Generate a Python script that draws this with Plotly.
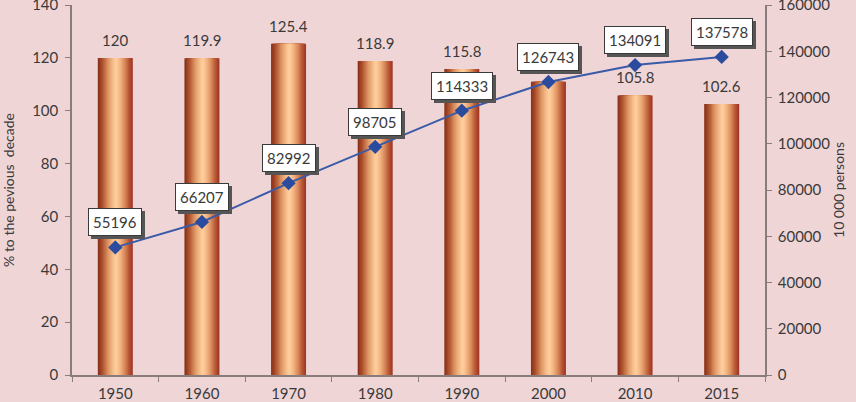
import plotly.graph_objects as go

years = ["1950", "1960", "1970", "1980", "1990", "2000", "2010", "2015"]
pct_prev_decade = [120, 119.9, 125.4, 118.9, 115.8, 111.0, 105.8, 102.6]
pct_labels = ["120", "119.9", "125.4", "118.9", "115.8", "", "105.8", "102.6"]
population = [55196, 66207, 82992, 98705, 114333, 126743, 134091, 137578]

BG = "#F0D5D7"
AXIS = "#8A7B7C"
TXT = "#3A3A3A"
FONT = "Lato"

fig = go.Figure()

# bar gradient (dark edges, light peach centre), built from nested overlay layers
BW = 0.404
half = BW / 2
peak = 0.52  # relative position of the light peak across the bar
PEAK_RGB = (253, 203, 152)
left_stops = [(0.0, (138, 50, 26)), (0.12, (176, 84, 48)), (0.28, (222, 150, 100)),
              (0.42, (246, 190, 140)), (0.52, PEAK_RGB)]
right_stops = [(0.52, PEAK_RGB), (0.64, (246, 186, 136)), (0.78, (218, 140, 92)),
               (0.90, (185, 88, 55)), (1.0, (160, 56, 36))]


def interp(stops, t):
    for (t0, c0), (t1, c1) in zip(stops[:-1], stops[1:]):
        if t0 <= t <= t1:
            f = 0 if t1 == t0 else (t - t0) / (t1 - t0)
            return "rgb(%d,%d,%d)" % tuple(round(a + (b - a) * f) for a, b in zip(c0, c1))
    c = stops[-1][1]
    return "rgb(%d,%d,%d)" % c


N = 14
eps = 0.01
for k in range(N):
    t = peak * k / N
    start = -half + BW * t
    end = -half + BW * peak + eps
    fig.add_trace(go.Bar(x=years, y=pct_prev_decade, offset=start, width=end - start,
                         marker=dict(color=interp(left_stops, t), line=dict(width=0)),
                         showlegend=False, hoverinfo="skip"))
for k in range(N):
    t = 1 - (1 - peak) * k / N
    start = -half + BW * peak - eps
    end = -half + BW * t
    fig.add_trace(go.Bar(x=years, y=pct_prev_decade, offset=start, width=end - start,
                         marker=dict(color=interp(right_stops, t), line=dict(width=0)),
                         showlegend=False, hoverinfo="skip"))
# smooth centre highlight over the seam
fig.add_trace(go.Bar(x=years, y=pct_prev_decade, offset=-half + BW * (peak - 0.05),
                     width=BW * 0.10,
                     marker=dict(color="rgb(%d,%d,%d)" % PEAK_RGB, line=dict(width=0)),
                     showlegend=False, hoverinfo="skip"))

fig.add_trace(go.Scatter(x=years, y=population, yaxis="y2", mode="lines+markers",
                         line=dict(color="#3A5BA8", width=2),
                         marker=dict(symbol="diamond", size=11, color="#2B4C9E"),
                         showlegend=False))

annotations = []
for i, (v, lab) in enumerate(zip(pct_prev_decade, pct_labels)):
    if lab:
        annotations.append(dict(x=i, y=v, xref="x", yref="y", text=lab, showarrow=False,
                                yshift=18, font=dict(family=FONT, size=15, color=TXT)))
for i, v in enumerate(population):
    annotations.append(dict(x=i, y=v, xref="x", yref="y2", text=str(v), showarrow=False,
                            xshift=3, yshift=22, bgcolor="#555555", bordercolor="#555555",
                            borderwidth=1, borderpad=4,
                            font=dict(family=FONT, size=15, color="#555555")))
    annotations.append(dict(x=i, y=v, xref="x", yref="y2", text=str(v), showarrow=False,
                            yshift=25, bgcolor="white", bordercolor="#3A3A3A",
                            borderwidth=1, borderpad=4,
                            font=dict(family=FONT, size=15, color=TXT)))

fig.update_layout(
    width=856, height=402,
    margin=dict(l=72, r=91, t=5, b=27, autoexpand=False),
    paper_bgcolor=BG, plot_bgcolor=BG,
    barmode="overlay",
    font=dict(family=FONT, size=15, color=TXT),
    xaxis=dict(type="category", range=[-0.5, 7.5], tickson="boundaries", ticks="outside",
               ticklen=5, tickcolor=AXIS, showline=True, linecolor=AXIS, linewidth=1.5,
               showgrid=False, tickangle=0, ticklabelstandoff=4, automargin=False,
               tickfont=dict(size=15, color=TXT)),
    yaxis=dict(range=[0, 140.05], tickvals=[0, 20, 40, 60, 80, 100, 120, 140],
               ticks="outside", ticklen=5, tickcolor=AXIS, ticklabeloverflow="allow",
               showline=True, linecolor=AXIS, linewidth=1.5, showgrid=False, zeroline=False,
               ticklabelstandoff=4, automargin=False,
               title=dict(text="% to the pevious  decade", font=dict(size=14, color=TXT), standoff=15),
               tickfont=dict(size=15, color=TXT)),
    yaxis2=dict(range=[0, 160060], tickvals=[0, 20000, 40000, 60000, 80000, 100000, 120000, 140000, 160000],
                overlaying="y", side="right", ticks="outside", ticklabeloverflow="allow",
                ticklen=5, tickcolor=AXIS, showline=True, linecolor=AXIS, linewidth=1.5,
                showgrid=False, zeroline=False, tickformat="d", ticklabelstandoff=3,
                automargin=False,
                title=dict(text="10 000 persons", font=dict(size=14, color=TXT), standoff=5),
                tickfont=dict(size=15, color=TXT)),
    annotations=annotations,
)

fig.write_html("out.html", config={"displayModeBar": False},
               post_script="document.body.style.margin='0';document.body.style.background='%s';" % BG)
